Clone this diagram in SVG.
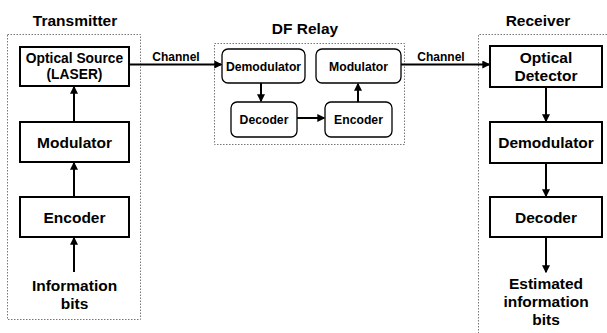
<svg xmlns="http://www.w3.org/2000/svg" width="607" height="333" viewBox="0 0 607 333">
<style>
text{font-family:"Liberation Sans",Arial,sans-serif;font-weight:bold;fill:#000;text-anchor:middle}
.t{font-size:15.5px}
.b{font-size:15.5px}
.s{font-size:13.8px}
.r{font-size:12.2px}
.c{font-size:12px}
.grp{fill:none;stroke:#777;stroke-width:1;stroke-dasharray:1.5 1.5}
.box{fill:#fff;stroke:#000;stroke-width:2}
.rbox{fill:#fff;stroke:#000;stroke-width:1.3}
.ln{stroke:#000;stroke-width:2;fill:none;marker-end:url(#ah)}
</style>
<defs>
<marker id="ah" markerWidth="8" markerHeight="8" refX="5" refY="3" orient="auto" markerUnits="userSpaceOnUse" viewBox="0 0 6 6">
<path d="M0,0 L6,3 L0,6 z" fill="#000"/>
</marker>
</defs>
<g id="groups">
<rect class="grp" x="7.5" y="34.5" width="133" height="285"/>
<text class="t" x="75" y="25.5">Transmitter</text>
<rect class="grp" x="214.5" y="43.5" width="190" height="101"/>
<text class="t" x="305" y="34">DF Relay</text>
<path class="grp" d="M607,34.5 H478.5 V333"/>
<text class="t" x="538" y="25.5">Receiver</text>
</g>
<g id="connectors">
<line class="ln" x1="74" y1="272" x2="74" y2="238"/>
<line class="ln" x1="74" y1="197" x2="74" y2="163"/>
<line class="ln" x1="74" y1="122" x2="74" y2="87"/>
<line class="ln" x1="129" y1="64.5" x2="221" y2="64.5"/>
<text class="c" x="176" y="61">Channel</text>
<line class="ln" x1="261" y1="83" x2="261" y2="101"/>
<line class="ln" x1="297" y1="118" x2="324" y2="118"/>
<line class="ln" x1="358" y1="102" x2="358" y2="84"/>
<line class="ln" x1="401" y1="64.5" x2="489" y2="64.5"/>
<text class="c" x="441" y="61">Channel</text>
<line class="ln" x1="546" y1="87" x2="546" y2="121"/>
<line class="ln" x1="546" y1="163" x2="546" y2="196"/>
<line class="ln" x1="546" y1="237" x2="546" y2="272"/>
</g>
<g id="tx-optical"><rect class="box" x="20" y="47" width="109" height="39"/><text class="s" x="74.5" y="62.5">Optical Source</text><text class="s" x="74.5" y="78.5">(LASER)</text></g>
<g id="tx-modulator"><rect class="box" x="20" y="122" width="109" height="40"/><text class="b" x="74.5" y="147.5">Modulator</text></g>
<g id="tx-encoder"><rect class="box" x="20" y="197" width="109" height="40"/><text class="b" x="74.5" y="222.5">Encoder</text></g>
<g id="tx-info"><text class="b" x="74.5" y="291">Information</text><text class="b" x="74.5" y="309">bits</text></g>
<g id="relay-demod"><rect class="rbox" x="222" y="49" width="83" height="34" rx="6"/><text class="r" x="263.5" y="70.5">Demodulator</text></g>
<g id="relay-mod"><rect class="rbox" x="316" y="49" width="85" height="34" rx="6"/><text class="r" x="358.5" y="70.5">Modulator</text></g>
<g id="relay-dec"><rect class="rbox" x="231" y="102" width="66" height="35" rx="6"/><text class="r" x="264" y="124">Decoder</text></g>
<g id="relay-enc"><rect class="rbox" x="325" y="102" width="67" height="35" rx="6"/><text class="r" x="358.5" y="124">Encoder</text></g>
<g id="rx-optical"><rect class="box" x="490" y="46" width="112" height="41"/><text class="b" x="546" y="63">Optical</text><text class="b" x="546" y="81">Detector</text></g>
<g id="rx-demod"><rect class="box" x="490" y="122" width="112" height="41"/><text class="b" x="546" y="148">Demodulator</text></g>
<g id="rx-dec"><rect class="box" x="490" y="197" width="112" height="40"/><text class="b" x="546" y="222.5">Decoder</text></g>
<g id="rx-est"><text class="b" x="546" y="289">Estimated</text><text class="b" x="546" y="307">information</text><text class="b" x="546" y="325">bits</text></g>
</svg>
